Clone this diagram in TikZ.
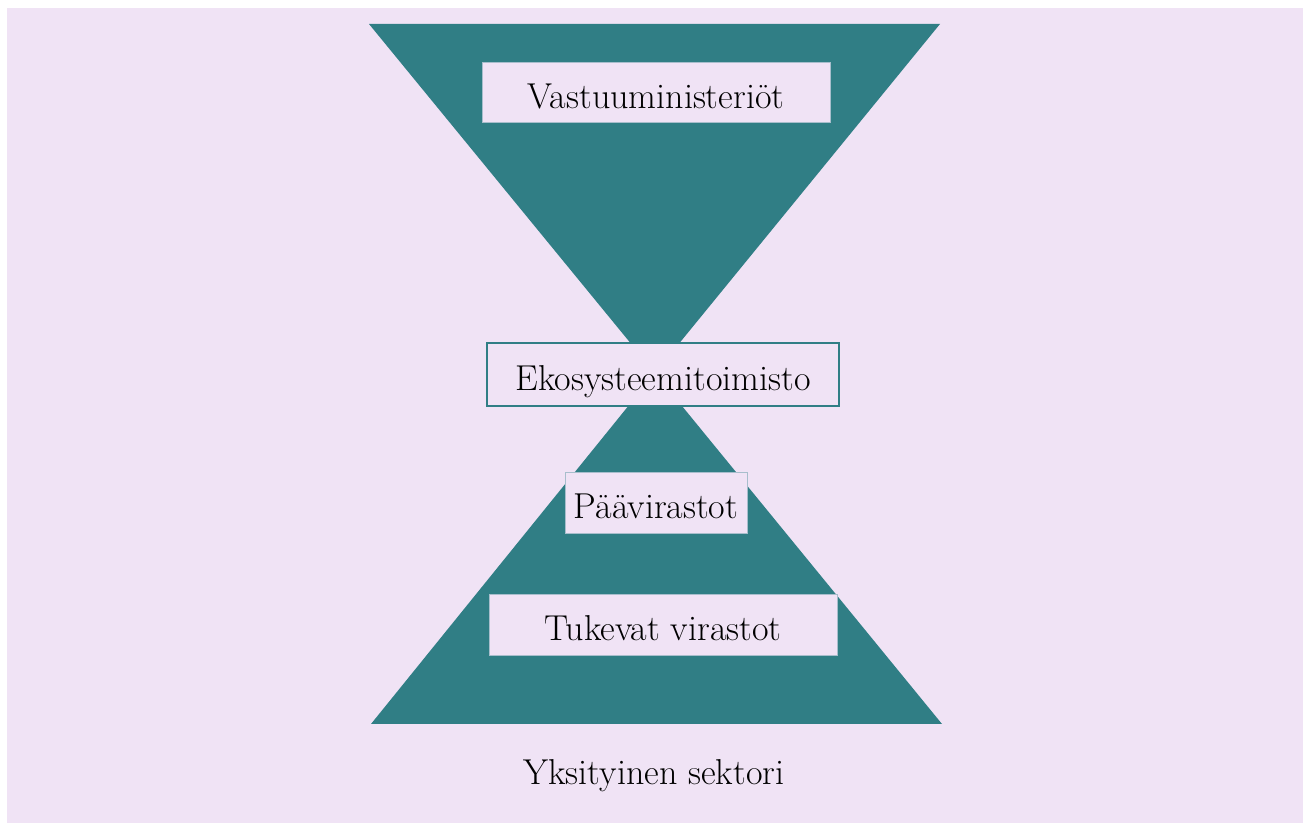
\documentclass[tikz,border=0pt]{standalone}
\usepackage{tikz}
\usetikzlibrary{positioning}
\definecolor{tealbg}{RGB}{48,126,133}
\definecolor{lavbg}{RGB}{240,227,245}
\definecolor{edgegray}{RGB}{168,190,204}
\tikzset{
	labeltext/.style = {font = \fontsize{18}{21}\selectfont},
	levelbox/.style = {labeltext, draw = edgegray, line width = 0.5pt, fill = lavbg, inner sep = 0pt, text height = 15.5pt, text depth = 0pt},
	officebox/.style = {levelbox, draw = tealbg, line width = 1pt}
}

\begin{document}
\begin{tikzpicture}[x = 0.5pt, y = -0.5pt]
	\fill [white] (0,0) rectangle (1303,823);
	\fill [lavbg] (7,8) rectangle (1303,823);
	% hourglass
	\fill [tealbg] (369,24) -- (940,24) -- (655,373) -- cycle;
	\fill [tealbg] (371,724) -- (942,724) -- (655,373) -- cycle;
	\node [levelbox, minimum width = 174pt, minimum height = 30pt] (ministries) at (656,93) {Vastuuministeriöt};
	\node [officebox, minimum width = 176pt, minimum height = 31.5pt] (ecosystem) at (663,375) {Ekosysteemitoimisto};
	\node [levelbox, minimum width = 91pt, minimum height = 30.5pt] (mainagencies) at (656,503) {Päävirastot};
	\node [levelbox, minimum width = 174pt, minimum height = 30.5pt] (supportagencies) at (663,625) {Tukevat virastot};
	\node [labeltext] (private) at (654,776) {Yksityinen sektori};
\end{tikzpicture}
\end{document}
